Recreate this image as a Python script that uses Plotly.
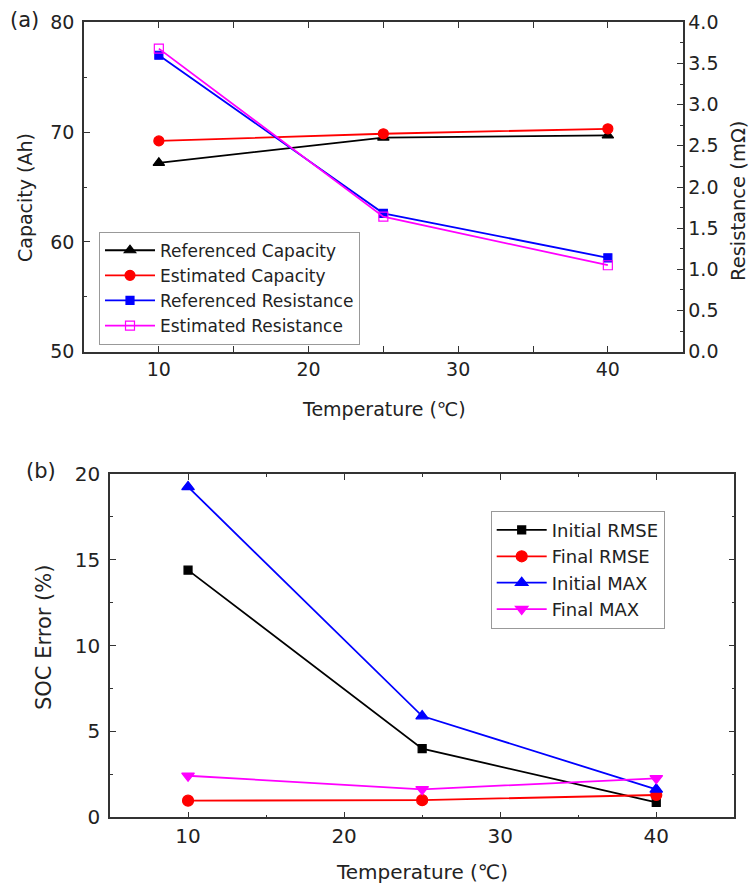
import plotly.graph_objects as go

# ---- data ----
temps = [10, 25, 40]
ref_capacity = [67.2, 69.5, 69.7]
est_capacity = [69.2, 69.85, 70.3]
ref_resistance = [3.60, 1.68, 1.14]
est_resistance = [3.68, 1.64, 1.05]

init_rmse = [14.4, 4.0, 0.87]
final_rmse = [0.97, 1.0, 1.3]
init_max = [19.25, 5.9, 1.63]
final_max = [2.42, 1.63, 2.27]

FONT = "DejaVu Sans, Arial, sans-serif"
TXT = "#222222"
AX = "#333333"

fig = go.Figure()

def tr(x, y, name, color, symbol, xa, ya, legend, size=9):
    return go.Scatter(x=x, y=y, name=name, mode="lines+markers",
                      line=dict(color=color, width=1.8),
                      marker=dict(color=color, symbol=symbol, size=size,
                                  line=dict(color=color, width=1.2)),
                      xaxis=xa, yaxis=ya, legend=legend)

fig.add_trace(tr(temps, ref_capacity, "Referenced Capacity", "#000000", "triangle-up", "x", "y", "legend", 10))
fig.add_trace(tr(temps, est_capacity, "Estimated Capacity", "#ff0000", "circle", "x", "y", "legend", 10))
fig.add_trace(tr(temps, ref_resistance, "Referenced Resistance", "#0000ff", "square", "x", "y2", "legend", 8))
fig.add_trace(tr(temps, est_resistance, "Estimated Resistance", "#ff00ff", "square-open", "x", "y2", "legend", 9))

fig.add_trace(tr(temps, init_rmse, "Initial RMSE", "#000000", "square", "x2", "y3", "legend2", 8))
fig.add_trace(tr(temps, final_rmse, "Final RMSE", "#ff0000", "circle", "x2", "y3", "legend2", 11))
fig.add_trace(tr(temps, init_max, "Initial MAX", "#0000ff", "triangle-up", "x2", "y3", "legend2", 11))
fig.add_trace(tr(temps, final_max, "Final MAX", "#ff00ff", "triangle-down", "x2", "y3", "legend2", 11))

W, H = 749, 885
def px(x): return x / W
def py(y): return 1 - y / H

def tickfont(s): return dict(family=FONT, size=s, color=TXT)

common = dict(showline=True, linecolor=AX, linewidth=1.5, showgrid=False,
              zeroline=False, ticks="inside", ticklen=6, tickwidth=1.2,
              tickcolor=AX, automargin=False)

fig.update_layout(
    width=W, height=H,
    margin=dict(l=0, r=0, t=0, b=0),
    paper_bgcolor="white", plot_bgcolor="white",
    font=dict(family=FONT, color=TXT),
    xaxis=dict(domain=[px(84), px(682.7)], anchor="y", range=[5, 45],
               tickvals=[10, 20, 30, 40], mirror="allticks", tickfont=tickfont(19),
               minor=dict(tickvals=[15, 25, 35], ticks="inside", ticklen=3, tickcolor=AX),
               **common),
    yaxis=dict(domain=[py(351.7), py(22.3)], anchor="x", range=[50, 80],
               tickvals=[50, 60, 70, 80], mirror=True, tickfont=tickfont(19),
               ticklabelstandoff=4,
               minor=dict(tickvals=[55, 65, 75], ticks="inside", ticklen=3, tickcolor=AX),
               **common),
    yaxis2=dict(overlaying="y", anchor="x", side="right", range=[0, 4],
                tickvals=[0, 0.5, 1, 1.5, 2, 2.5, 3, 3.5, 4], tickformat=".1f",
                tickfont=tickfont(19),
                minor=dict(dtick=0.25, ticks="inside", ticklen=3, tickcolor=AX),
                **common),
    xaxis2=dict(domain=[px(110), px(734.3)], anchor="y3", range=[5, 45],
                tickvals=[10, 20, 30, 40], mirror="allticks", tickfont=tickfont(20),
                minor=dict(tickvals=[15, 25, 35], ticks="inside", ticklen=3, tickcolor=AX),
                **common),
    yaxis3=dict(domain=[py(817.3), py(474)], anchor="x2", range=[0, 20],
                tickvals=[0, 5, 10, 15, 20], mirror="allticks", tickfont=tickfont(20),
                ticklabelstandoff=4,
                minor=dict(tickvals=[2.5, 7.5, 12.5, 17.5], ticks="inside", ticklen=3, tickcolor=AX),
                **common),
    legend=dict(x=px(99), y=py(231.7), xanchor="left", yanchor="top",
                bordercolor="#999999", borderwidth=1, bgcolor="white",
                font=dict(family=FONT, size=17, color=TXT),
                itemwidth=50, tracegroupgap=0),
    legend2=dict(x=px(490.7), y=py(510.7), xanchor="left", yanchor="top",
                 bordercolor="#999999", borderwidth=1, bgcolor="white",
                 font=dict(family=FONT, size=18, color=TXT),
                 itemwidth=50, tracegroupgap=0),
    showlegend=True,
)

def ann(text, x, y, size, angle=0):
    fig.add_annotation(text=text, x=px(x), y=py(y), xref="paper", yref="paper",
                       xanchor="center", yanchor="middle", textangle=angle,
                       showarrow=False, font=dict(family=FONT, size=size, color=TXT))

ann("(a)", 24.5, 20, 21)
ann("(b)", 41, 471, 21)
ann("Temperature (℃)", 384, 409, 19)
ann("Capacity (Ah)", 25, 198, 19, -90)
ann("Resistance (mΩ)", 739, 201, 19.5, -90)
ann("Temperature (℃)", 422, 872, 20)
ann("SOC Error (%)", 44, 638, 21, -90)

fig.write_html("out.html")
